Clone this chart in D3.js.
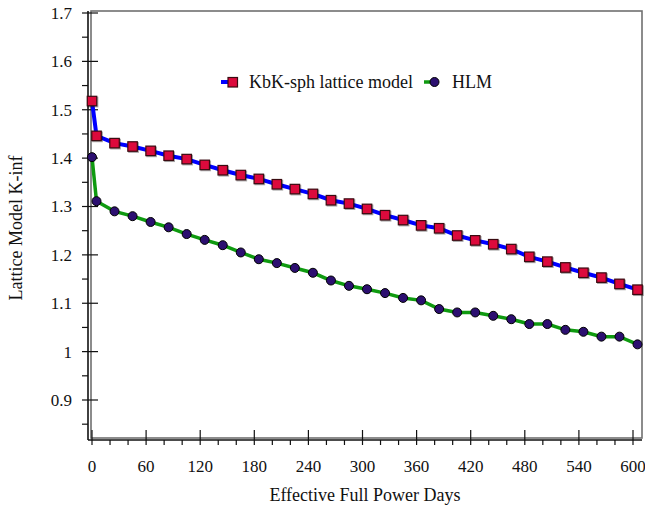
<!DOCTYPE html>
<html>
<head>
<meta charset="utf-8">
<script src="https://cdn.jsdelivr.net/npm/d3@7"></script>
<style>
  body { margin: 0; background: #fff; }
  text { font-family: "Liberation Serif", "Times New Roman", serif; fill: #111; }
</style>
</head>
<body>
<script>
// effective full power days
const days = [0, 5, 25, 45, 65, 85, 105, 125, 145, 165, 185, 205, 225, 245, 265, 285,
              305, 325, 345, 365, 385, 405, 425, 445, 465, 485, 505, 525, 545, 565, 585, 605];

const kbkValues = [1.518, 1.446, 1.431, 1.424, 1.415, 1.405, 1.398, 1.386, 1.375, 1.365, 1.357,
                   1.346, 1.336, 1.326, 1.313, 1.306, 1.295, 1.282, 1.272, 1.261, 1.255, 1.240,
                   1.230, 1.222, 1.212, 1.196, 1.186, 1.174, 1.163, 1.153, 1.140, 1.128];

const hlmValues = [1.402, 1.311, 1.290, 1.280, 1.268, 1.257, 1.243, 1.231, 1.220, 1.205, 1.191,
                   1.183, 1.173, 1.163, 1.147, 1.136, 1.129, 1.121, 1.111, 1.106, 1.088, 1.081,
                   1.081, 1.074, 1.067, 1.057, 1.057, 1.045, 1.041, 1.031, 1.031, 1.015];

const xTicks = [0, 60, 120, 180, 240, 300, 360, 420, 480, 540, 600];
const xMinorTicks = d3.range(0, 620, 20);
const yTicks = [0.9, 1, 1.1, 1.2, 1.3, 1.4, 1.5, 1.6, 1.7];
const yMinorTicks = [0.85, 0.95, 1.05, 1.15, 1.25, 1.35, 1.45, 1.55, 1.65];

const seriesNames = ['KbK-sph lattice model', 'HLM'];

const width = 645, height = 508;
const axisX = 88, axisY = 440;

const x = d3.scaleLinear().domain([0, 600]).range([92, 633]);
const y = d3.scaleLinear().domain([0.9, 1.7]).range([400, 13]);

const svg = d3.select(document.body).append('svg')
  .attr('width', width)
  .attr('height', height);

// plot frame
svg.append('rect')
  .attr('x', 91).attr('y', 11)
  .attr('width', 642 - 91).attr('height', 438 - 11)
  .attr('fill', 'none')
  .attr('stroke', '#707070')
  .attr('stroke-width', 1.6);

// y axis
const gy = svg.append('g').attr('class', 'axis axis--y');
gy.append('line')
  .attr('x1', axisX).attr('x2', axisX)
  .attr('y1', 11).attr('y2', axisY)
  .attr('stroke', '#111').attr('stroke-width', 1.6);
gy.selectAll('.major')
  .data(yTicks)
  .enter().append('line')
  .attr('x1', axisX - 6).attr('x2', axisX + 10)
  .attr('y1', d => y(d)).attr('y2', d => y(d))
  .attr('stroke', '#111').attr('stroke-width', 1.2);
gy.selectAll('.minor')
  .data(yMinorTicks)
  .enter().append('line')
  .attr('x1', axisX - 6).attr('x2', axisX)
  .attr('y1', d => y(d)).attr('y2', d => y(d))
  .attr('stroke', '#111').attr('stroke-width', 1.2);
gy.selectAll('text')
  .data(yTicks)
  .enter().append('text')
  .attr('x', 72)
  .attr('y', d => y(d))
  .attr('dy', '0.35em')
  .attr('text-anchor', 'end')
  .attr('font-size', 17)
  .text(d => d3.format('')(d));

// x axis
const gx = svg.append('g').attr('class', 'axis axis--x');
gx.append('line')
  .attr('x1', axisX).attr('x2', 642)
  .attr('y1', axisY).attr('y2', axisY)
  .attr('stroke', '#111').attr('stroke-width', 1.6);
gx.selectAll('.minor')
  .data(xMinorTicks.filter(d => d % 60 !== 0))
  .enter().append('line')
  .attr('x1', d => x(d)).attr('x2', d => x(d))
  .attr('y1', axisY).attr('y2', axisY + 5)
  .attr('stroke', '#111').attr('stroke-width', 1.2);
gx.selectAll('.major')
  .data(xTicks)
  .enter().append('line')
  .attr('x1', d => x(d)).attr('x2', d => x(d))
  .attr('y1', axisY - 10).attr('y2', axisY + 5)
  .attr('stroke', '#111').attr('stroke-width', 1.2);
gx.selectAll('text')
  .data(xTicks)
  .enter().append('text')
  .attr('x', d => x(d))
  .attr('y', 472)
  .attr('text-anchor', 'middle')
  .attr('font-size', 17)
  .text(d => d);

// axis titles
svg.append('text')
  .attr('x', 365).attr('y', 501)
  .attr('text-anchor', 'middle')
  .attr('font-size', 18)
  .text('Effective Full Power Days');

svg.append('text')
  .attr('transform', 'translate(22, 228) rotate(-90)')
  .attr('text-anchor', 'middle')
  .attr('font-size', 18)
  .text('Lattice Model K-inf');

// series
const kbk = days.map((d, i) => ({ day: d, value: kbkValues[i] }));
const hlm = days.map((d, i) => ({ day: d, value: hlmValues[i] }));

const line = d3.line()
  .x(d => x(d.day))
  .y(d => y(d.value));

const g = svg.append('g').attr('class', 'graph');

g.append('path')
  .datum(hlm)
  .attr('d', line)
  .attr('fill', 'none')
  .attr('stroke', '#0f9a10')
  .attr('stroke-width', 3.5);

g.selectAll('.hlm')
  .data(hlm)
  .enter().append('circle')
  .attr('class', 'hlm')
  .attr('cx', d => x(d.day))
  .attr('cy', d => y(d.value))
  .attr('r', 4.5)
  .attr('fill', '#2c0f70')
  .attr('stroke', '#000')
  .attr('stroke-width', 1);

g.append('path')
  .datum(kbk)
  .attr('d', line)
  .attr('fill', 'none')
  .attr('stroke', '#0000ff')
  .attr('stroke-width', 4);

const sq = 9.5;
g.selectAll('.kbk')
  .data(kbk)
  .enter().append('rect')
  .attr('class', 'kbk')
  .attr('x', d => x(d.day) - sq / 2)
  .attr('y', d => y(d.value) - sq / 2)
  .attr('width', sq).attr('height', sq)
  .attr('fill', '#dc0a3c')
  .attr('stroke', '#3a0a10')
  .attr('stroke-width', 1.2)
  .style('filter', 'drop-shadow(1px 1px 0.6px rgba(0,0,0,0.35))');

// legend
const legend = svg.append('g').attr('class', 'legend');
legend.append('line')
  .attr('x1', 221).attr('x2', 233).attr('y1', 82).attr('y2', 82)
  .attr('stroke', '#0000ff').attr('stroke-width', 4);
legend.append('rect')
  .attr('x', 228).attr('y', 77.5).attr('width', sq).attr('height', sq)
  .attr('fill', '#dc0a3c').attr('stroke', '#3a0a10').attr('stroke-width', 1.2);
legend.append('text')
  .attr('x', 249).attr('y', 82).attr('dy', '0.35em')
  .attr('font-size', 18)
  .text(seriesNames[0]);

legend.append('line')
  .attr('x1', 424).attr('x2', 434).attr('y1', 82).attr('y2', 82)
  .attr('stroke', '#0f9a10').attr('stroke-width', 3.5);
legend.append('circle')
  .attr('cx', 434.5).attr('cy', 82).attr('r', 4.5)
  .attr('fill', '#2c0f70').attr('stroke', '#000').attr('stroke-width', 1);
legend.append('text')
  .attr('x', 452).attr('y', 82).attr('dy', '0.35em')
  .attr('font-size', 18)
  .text(seriesNames[1]);
</script>
</body>
</html>
